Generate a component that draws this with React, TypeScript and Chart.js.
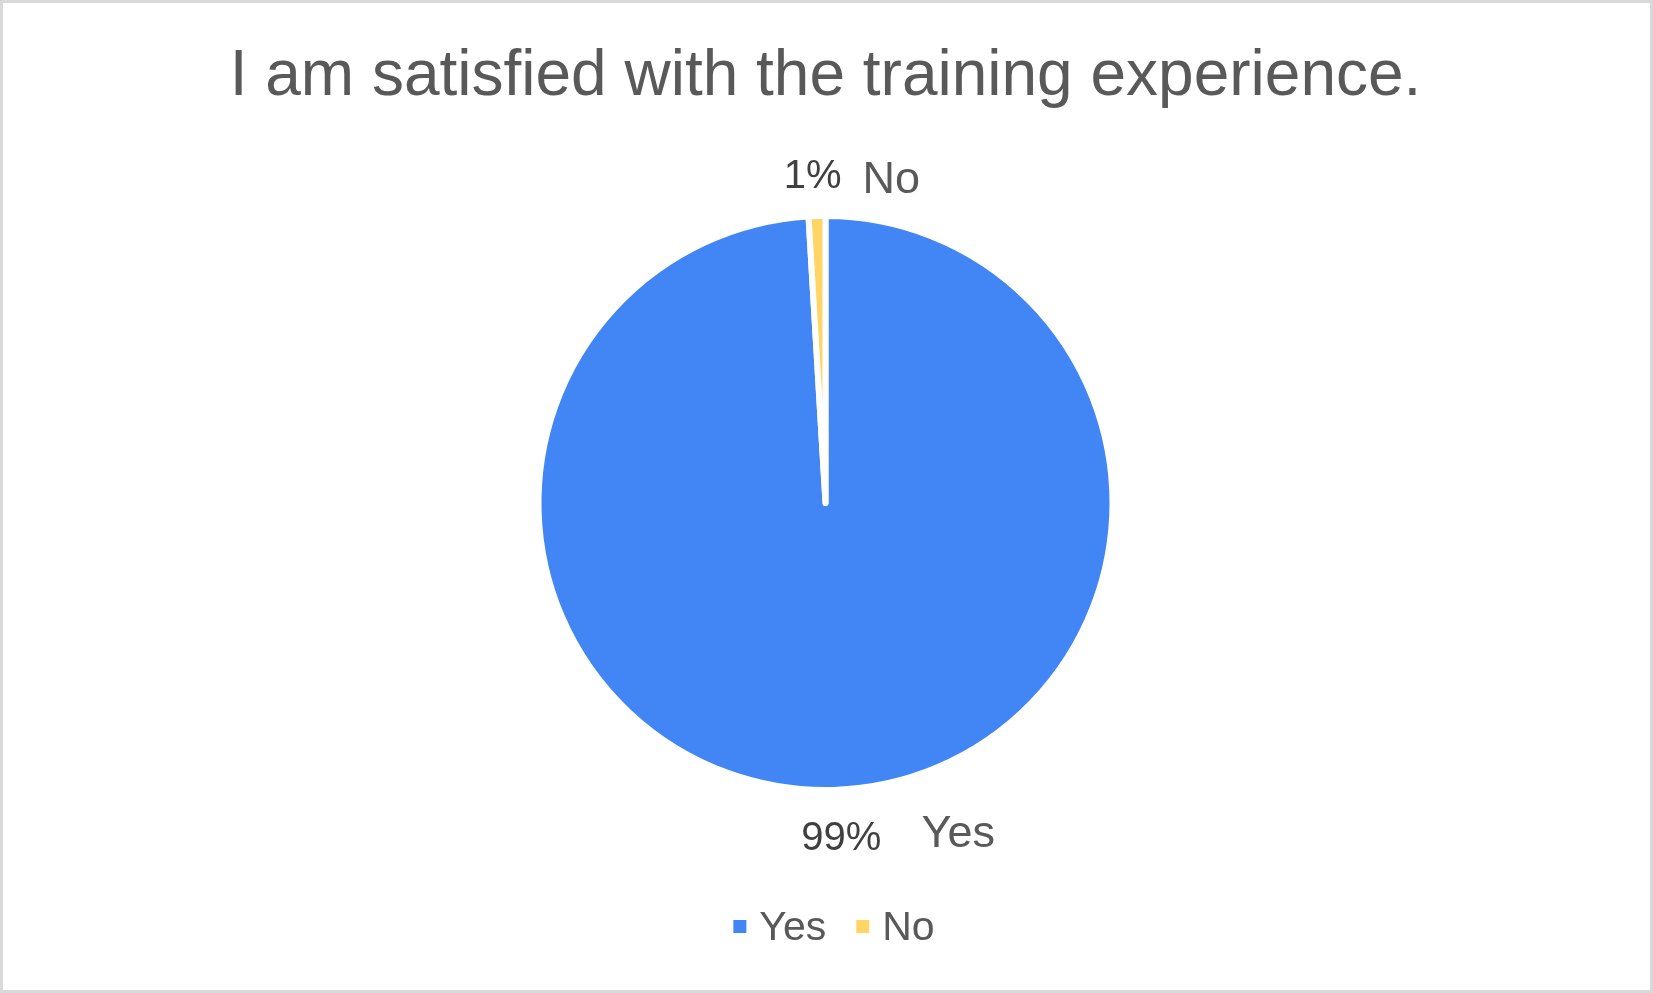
import React, { useEffect, useRef } from "react";
import { Chart, registerables } from "chart.js";

Chart.register(...registerables);

// ---- data ----
const categories = ["Yes", "No"];
const responses = [105, 1];
const sliceColors = ["#4285F4", "#FFD666"];
const titleText = "I am satisfied with the training experience.";

// ---- style ----
const FONT = "'Liberation Sans', Arial, Helvetica, sans-serif";
const CANVAS_W = 1647;
const CANVAS_H = 987;
const SLICE_BORDER = 6;
const PIE_RADIUS = 284 + SLICE_BORDER / 2;

// outside label placement, relative to the midpoint of each slice's outer edge
const labelLayout = [
  { pctDx: 47.5, pctDy: 63, nameDx: 87.7, nameDy: 59.7 },
  { pctDx: 24.4, pctDy: -31, nameDx: 45.3, nameDy: -26.4 },
];

const sliceLabelPlugin = {
  id: "sliceLabels",
  afterDatasetsDraw(chart: any) {
    const ctx = chart.ctx;
    const meta = chart.getDatasetMeta(0);
    const values: number[] = chart.data.datasets[0].data;
    const total = values.reduce((a, b) => a + b, 0);
    ctx.save();
    ctx.textBaseline = "alphabetic";
    meta.data.forEach((arc: any, i: number) => {
      const p = arc.getProps(["x", "y", "startAngle", "endAngle", "outerRadius"], true);
      const mid = (p.startAngle + p.endAngle) / 2;
      const r = p.outerRadius - SLICE_BORDER / 2;
      const ax = p.x + Math.cos(mid) * r;
      const ay = p.y + Math.sin(mid) * r;
      const lay = labelLayout[i];
      const pct = Math.round((values[i] / total) * 100) + "%";
      ctx.font = `40px ${FONT}`;
      ctx.fillStyle = "#404040";
      ctx.textAlign = "right";
      ctx.fillText(pct, ax + lay.pctDx, ay + lay.pctDy);
      ctx.font = `45px ${FONT}`;
      ctx.fillStyle = "#595959";
      ctx.textAlign = "left";
      ctx.fillText(chart.data.labels[i], ax + lay.nameDx, ay + lay.nameDy);
    });
    ctx.restore();
  },
};

const bottomLegendPlugin = {
  id: "bottomLegend",
  afterDraw(chart: any) {
    const ctx = chart.ctx;
    const area = chart.chartArea;
    const colors: string[] = chart.data.datasets[0].backgroundColor;
    const labels: string[] = chart.data.labels;
    const box = 13;
    const boxGap = 13;
    const itemGap = 30;
    ctx.save();
    ctx.font = `41px ${FONT}`;
    const widths = labels.map((l) => ctx.measureText(l).width);
    const total =
      widths.reduce((a, w) => a + box + boxGap + w, 0) + itemGap * (labels.length - 1);
    const cx = (area.left + area.right) / 2 + 8.5;
    let x = cx - total / 2;
    const boxCenterY = area.bottom + 36.3;
    const baseline = area.bottom + 49.8;
    labels.forEach((l, i) => {
      ctx.fillStyle = colors[i];
      ctx.fillRect(x, boxCenterY - box / 2, box, box);
      x += box + boxGap;
      ctx.fillStyle = "#595959";
      ctx.textAlign = "left";
      ctx.textBaseline = "alphabetic";
      ctx.fillText(l, x, baseline);
      x += widths[i] + itemGap;
    });
    ctx.restore();
  },
};

export default function App() {
  const canvasRef = useRef<HTMLCanvasElement | null>(null);

  useEffect(() => {
    if (!canvasRef.current) return;
    const chart = new Chart(canvasRef.current, {
      type: "pie",
      data: {
        labels: categories,
        datasets: [
          {
            data: responses,
            backgroundColor: sliceColors,
            borderColor: "#ffffff",
            borderWidth: SLICE_BORDER,
            borderJoinStyle: "round",
            radius: PIE_RADIUS,
            hoverOffset: 0,
          } as any,
        ],
      },
      options: {
        responsive: false,
        animation: false,
        devicePixelRatio: 1,
        layout: { padding: { top: 0, left: 0, right: 2, bottom: 99.8 } },
        plugins: {
          legend: { display: false },
          tooltip: { enabled: false },
          title: {
            display: true,
            text: titleText,
            color: "#595959",
            font: { family: FONT, size: 64, weight: "normal" },
            padding: { top: 36, bottom: 0 },
          },
        },
      },
      plugins: [sliceLabelPlugin, bottomLegendPlugin],
    });
    return () => chart.destroy();
  }, []);

  return (
    <div
      style={{
        position: "fixed",
        left: 0,
        top: 0,
        width: 1653,
        height: 993,
        boxSizing: "border-box",
        border: "3px solid #d9d9d9",
        background: "#ffffff",
      }}
    >
      <canvas
        ref={canvasRef}
        width={CANVAS_W}
        height={CANVAS_H}
        style={{ display: "block", width: CANVAS_W, height: CANVAS_H }}
      />
    </div>
  );
}
